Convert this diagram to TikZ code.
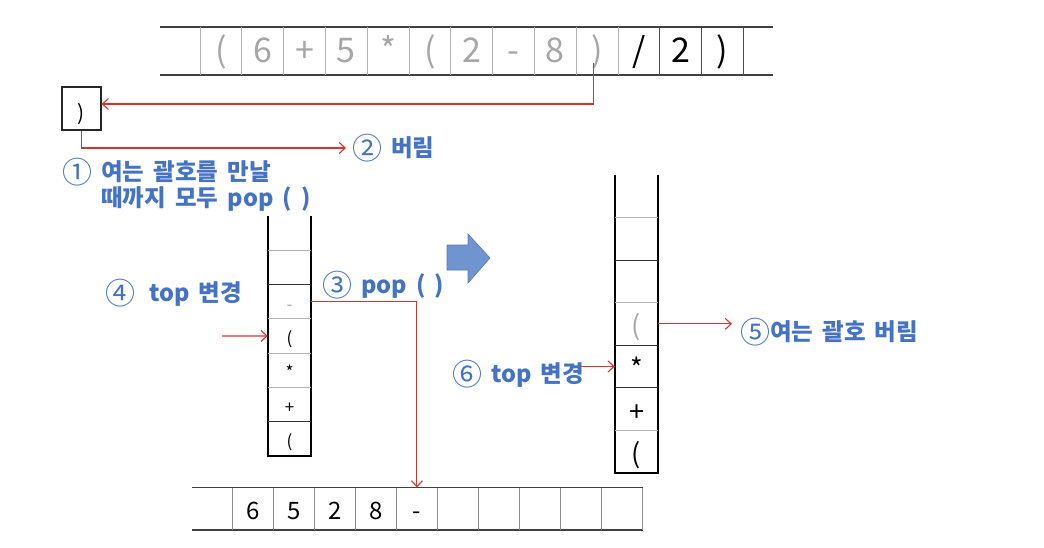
\documentclass[tikz,border=0pt]{standalone}
\usepackage{fontspec}
\setmainfont{Noto Sans CJK KR}
\newfontfamily\lblfont{Noto Sans CJK KR}[WordSpace=1.7]
\usetikzlibrary{arrows.meta,positioning}
\definecolor{lblblue}{RGB}{68,114,196}
\definecolor{arrred}{RGB}{214,52,46}
\definecolor{ghost}{RGB}{166,166,166}
\definecolor{blockfill}{RGB}{112,148,208}
\definecolor{blockedge}{RGB}{84,122,190}
\newcommand\cnum[1]{\raisebox{-2.5pt}{\mdseries\fontsize{30}{30}\selectfont #1}}

\begin{document}
\begin{tikzpicture}[x=1pt, y=-1pt,
    redarr/.style={draw=arrred, line width=1.1pt, -{Straight Barb[length=6pt,width=11pt]}},
    rail/.style={draw=black!75, line width=1.3pt},
    sep/.style={draw=black!30, line width=0.9pt},
    wall/.style={draw=black, line width=2.7pt, line join=miter},
    tcell/.style={inner sep=0, minimum width=41.8pt, minimum height=48pt, text height=24pt, text depth=0pt, font=\fontsize{34}{34}\selectfont},
    bcell/.style={inner sep=0, minimum width=41pt, minimum height=42.3pt, text height=22pt, text depth=0pt, font=\fontsize{24}{24}\selectfont},
    lcell/.style={inner sep=0, minimum width=43pt, minimum height=34.3pt, text height=17pt, text depth=0pt, font=\fontsize{17}{17}\selectfont},
    rcell/.style={inner sep=0, minimum width=43pt, minimum height=42.6pt, text height=24pt, text depth=0pt, font=\fontsize{27}{27}\selectfont},
    lbl/.style={anchor=west, inner sep=0, text=lblblue, font=\lblfont\bfseries\fontsize{23.5}{28}\selectfont}]
    \useasboundingbox (0,0) rectangle (1044,548);

    % input expression
    \draw[rail] (160,27) -- (773,27) (160,75) -- (773,75);
    \foreach \i in {0,...,10} \draw[sep] ({200+41.8*\i},27) -- ({200+41.8*\i},75);
    \foreach \i in {11,...,13} \draw[sep, draw=black!70] ({200+41.8*\i},27) -- ({200+41.8*\i},75);
    \foreach \ch [count=\i] in {{(},6,+,5,*,{(},2,-,8,{)}}
        \node[tcell, text=ghost] (t\i) at ({200+41.8*(\i-0.5)},51) {\ch};
    \node[tcell] (t11) at ({200+41.8*10.5},51) {/};
    \node[tcell] (t12) at ({200+41.8*11.5},51) {2};
    \node[tcell] (t13) at ({200+41.8*12.5},51) {)};

    % popped token
    \node[draw=black!85, line width=1.2pt, minimum width=39pt, minimum height=43pt, inner sep=0,
        text height=25pt, text depth=0pt, font=\fontsize{21}{21}\selectfont] (box) at (81.5,108.5) {)};
    \draw[redarr] ([xshift=-4pt]t10.base) |- ([yshift=4.5pt]box.east);

    \node[lbl] (l2) at (352,148) {\cnum{②} 버림};
    \draw[redarr, shorten >=6pt] (box.south) |- (l2.west);
    \node[lbl] (l1) at (62,172) {\cnum{①} 여는 괄호를 만날};
    \node[lbl] (l1b) at (101,199) {때까지 모두 pop ( )};

    % stack before
    \draw[wall] (268,216) -- (268,456) -- (311,456) -- (311,216);
    \foreach \k/\c in {1/black!80,2/black!30,3/black!30,4/black!30,5/black!80,6/black!30}
        \draw[sep, draw=\c] (268,{456-34.3*\k}) -- (311,{456-34.3*\k});
    \foreach \ch [count=\k from 0] in {{(},+,*,{(},{\textcolor{ghost}{-}},{},{}}
        \node[lcell] (lc\k) at (289.5,{456-34.3*(\k+0.5)}) {\ch};

    \node[lbl] (l3) at (322,285) {\cnum{③} pop ( )};
    \node[lbl] (l4) at (105,293) {\cnum{④}\hspace{5pt} top 변경};
    \coordinate (p4) at (222,336);
    \draw[redarr] (p4) -- (lc3.west);

    % postfix output
    \draw[rail] (192,487.7) -- (643,487.7) (192,530) -- (643,530);
    \foreach \i in {0,...,10} \draw[sep, draw=black!45] ({232.3+41.03*\i},487.7) -- ({232.3+41.03*\i},530);
    \foreach \ch [count=\i] in {6,5,2,8,-,{},{},{},{},{}}
        \node[bcell] (b\i) at ({232.3+41.03*(\i-0.5)},508.85) {\ch};
    \draw[redarr] (lc4.east) -| (b5.north);

    % next step
    \fill[blockfill, draw=blockedge, line width=0.6pt] (447,245) -- (468,245) -- (468,234) -- (490,258)
        -- (468,283) -- (468,270) -- (447,270) -- cycle;

    % stack after
    \draw[wall] (615,175) -- (615,473) -- (658,473) -- (658,175);
    \foreach \k/\c in {1/black!30,2/black!80,3/black!80,4/black!30,5/black!80,6/black!30}
        \draw[sep, draw=\c] (615,{473-42.6*\k}) -- (658,{473-42.6*\k});
    \foreach \ch [count=\k from 0] in {{(},+,*,{\textcolor{ghost}{(}},{},{},{}}
        \node[rcell] (rc\k) at (636.5,{473-42.6*(\k+0.5)}) {\ch};

    \node[lbl] (l5) at (740,332) {\cnum{⑤}여는 괄호 버림};
    \node[lbl] (l6) at (452,374) {\cnum{⑥} top 변경};
    \draw[redarr] (rc3.east) -- ([xshift=-8pt]l5.west |- rc3.east);
    \draw[redarr] ([xshift=-4pt]l6.east |- rc2.west) -- (rc2.west);
\end{tikzpicture}
\end{document}
